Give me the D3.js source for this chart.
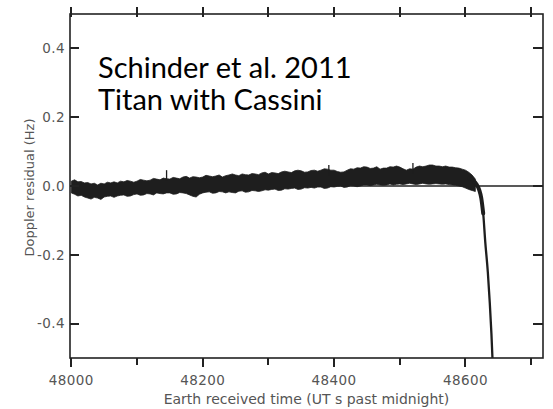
<!DOCTYPE html>
<html><head><meta charset="utf-8">
<script src="https://cdn.jsdelivr.net/npm/d3@7"></script>
<style>body{margin:0;background:#fff}svg{display:block}</style>
</head><body><svg id="c" width="553" height="409"></svg>
<script>
// ---- data ----
const bandTime = [48000,48005,48010,48015,48020,48025,48030,48035,48040,48045,48050,48055,48060,48065,48070,48075,48080,48085,48090,48095,48100,48105,48110,48115,48120,48125,48130,48135,48140,48145,48150,48155,48160,48165,48170,48175,48180,48185,48190,48195,48200,48205,48210,48215,48220,48225,48230,48235,48240,48245,48250,48255,48260,48265,48270,48275,48280,48285,48290,48295,48300,48305,48310,48315,48320,48325,48330,48335,48340,48345,48350,48355,48360,48365,48370,48375,48380,48385,48390,48395,48400,48405,48410,48415,48420,48425,48430,48435,48440,48445,48450,48455,48460,48465,48470,48475,48480,48485,48490,48495,48500,48505,48510,48515,48520,48525,48530,48535,48540,48545,48550,48555,48560,48565,48570,48575,48580,48585,48590,48595,48600,48605,48610,48615];
const bandUpper = [0.014,0.018,0.012,0.013,0.009,0.010,0.006,0.008,0.003,0.008,0.006,0.011,0.009,0.012,0.009,0.014,0.012,0.016,0.014,0.011,0.014,0.019,0.017,0.015,0.017,0.022,0.020,0.018,0.023,0.021,0.020,0.025,0.023,0.021,0.026,0.028,0.023,0.027,0.026,0.024,0.026,0.031,0.029,0.027,0.029,0.032,0.026,0.030,0.032,0.035,0.032,0.030,0.035,0.033,0.032,0.036,0.035,0.033,0.038,0.040,0.035,0.039,0.038,0.036,0.041,0.043,0.041,0.039,0.044,0.046,0.044,0.040,0.041,0.045,0.046,0.043,0.046,0.050,0.049,0.046,0.046,0.042,0.040,0.041,0.046,0.050,0.049,0.053,0.052,0.056,0.055,0.051,0.052,0.056,0.049,0.052,0.052,0.056,0.055,0.058,0.055,0.050,0.046,0.050,0.049,0.055,0.058,0.056,0.058,0.061,0.061,0.058,0.058,0.056,0.058,0.055,0.055,0.053,0.052,0.049,0.046,0.040,0.032,0.020];
const bandLower = [-0.020,-0.024,-0.029,-0.027,-0.032,-0.035,-0.038,-0.033,-0.035,-0.039,-0.032,-0.030,-0.029,-0.033,-0.029,-0.027,-0.026,-0.030,-0.029,-0.025,-0.023,-0.027,-0.026,-0.022,-0.023,-0.026,-0.020,-0.022,-0.023,-0.020,-0.020,-0.024,-0.023,-0.019,-0.020,-0.022,-0.026,-0.030,-0.032,-0.024,-0.020,-0.018,-0.017,-0.021,-0.020,-0.016,-0.017,-0.020,-0.017,-0.019,-0.020,-0.015,-0.014,-0.018,-0.017,-0.013,-0.014,-0.016,-0.014,-0.011,-0.012,-0.010,-0.009,-0.013,-0.012,-0.008,-0.009,-0.007,-0.006,-0.010,-0.009,-0.005,-0.006,-0.004,-0.006,-0.003,-0.003,-0.007,-0.006,-0.002,-0.003,-0.001,0.000,-0.004,-0.003,0.001,0.000,-0.002,0.000,0.003,0.003,0.001,0.003,0.005,0.003,0.002,0.003,0.006,0.003,0.005,0.006,0.004,0.006,0.008,0.006,0.004,0.006,0.008,0.006,0.005,0.006,0.007,0.006,0.005,0.006,0.004,0.003,0.002,0.000,-0.002,-0.006,-0.010,-0.013,-0.016];
const spikeTime = [48145, 48392, 48520];
const spikeTop = [0.046, 0.061, 0.067];
const descentTime = [48606,48612,48617,48621,48624,48627,48630,48634,48637,48639.5,48641.5];
const descentValue = [0.022,0.016,0.004,-0.012,-0.035,-0.080,-0.160,-0.250,-0.340,-0.430,-0.520];
const xTicksMajor = [48000,48200,48400,48600];
const xTicksAll = [48000,48100,48200,48300,48400,48500,48600,48700];
const yTicks = [0.4,0.2,0.0,-0.2,-0.4];
const yTickLabels = ["0.4","0.2","0.0","-0.2","-0.4"];
const xTitle = "Earth received time (UT s past midnight)";
const yTitle = "Doppler residual (Hz)";
const noteLines = ["Schinder et al. 2011","Titan with Cassini"];

// ---- layout ----
const L=70, R=543, T=14, B=358;
const svg = d3.select("#c");
const x = d3.scaleLinear().domain([47998,48718]).range([L,R]);
const y = d3.scaleLinear().domain([-0.5,0.5]).range([B,T]);
const ink = "#1e1e1e", axisCol = "#222", labelCol = "#555";

svg.append("defs").append("clipPath").attr("id","clip")
  .append("rect").attr("x",L).attr("y",T).attr("width",R-L).attr("height",B-T);

const g = svg.append("g").attr("clip-path","url(#clip)");
g.append("line").attr("x1",L).attr("x2",R).attr("y1",y(0)).attr("y2",y(0))
  .attr("stroke","#222").attr("stroke-width",1.3);

const band = bandTime.map((t,i)=>({t,u:bandUpper[i],l:bandLower[i]}));
g.append("path").datum(band)
  .attr("d", d3.area().x(d=>x(d.t)).y0(d=>y(d.l)).y1(d=>y(d.u)))
  .attr("fill",ink).attr("stroke",ink).attr("stroke-width",0.8).attr("stroke-linejoin","round");

g.selectAll("line.spike").data(spikeTime.map((t,i)=>({t,v:spikeTop[i]}))).enter().append("line")
  .attr("class","spike")
  .attr("x1",d=>x(d.t)).attr("x2",d=>x(d.t)).attr("y1",d=>y(d.v)).attr("y2",d=>y(d.v-0.03))
  .attr("stroke",ink).attr("stroke-width",1.3);

const desc = descentTime.map((t,i)=>({t,v:descentValue[i]}));
g.append("path").datum(desc.slice(0,6))
  .attr("d", d3.line().x(d=>x(d.t)).y(d=>y(d.v)).curve(d3.curveMonotoneX))
  .attr("fill","none").attr("stroke",ink).attr("stroke-width",4).attr("stroke-linecap","round");
g.append("path").datum(desc)
  .attr("d", d3.line().x(d=>x(d.t)).y(d=>y(d.v)).curve(d3.curveMonotoneX))
  .attr("fill","none").attr("stroke",ink).attr("stroke-width",2.3);

// ---- frame ----
svg.append("rect").attr("x",L).attr("y",T).attr("width",R-L).attr("height",B-T)
  .attr("fill","none").attr("stroke",axisCol).attr("stroke-width",1.6);

// ---- ticks as filled rects (positions from scales) ----
const tickRects = [];
xTicksAll.forEach(d=>{
  const px = Math.round(x(d));
  tickRects.push({x:px-1, y:B, w:2, h:(xTicksMajor.includes(d)?9:7)});
  tickRects.push({x:px-1, y:T-7, w:2, h:10});
});
yTicks.forEach(d=>{
  const py = Math.round(y(d));
  tickRects.push({x:L, y:py-1, w:9, h:2});
  tickRects.push({x:R-10, y:py-1, w:10, h:2});
});
svg.append("g").selectAll("rect").data(tickRects).enter().append("rect")
  .attr("x",d=>d.x).attr("y",d=>d.y).attr("width",d=>d.w).attr("height",d=>d.h)
  .attr("fill",axisCol);

svg.append("g").selectAll("text").data(xTicksMajor).enter().append("text")
  .attr("x",d=>x(d)).attr("y",B+27).attr("text-anchor","middle")
  .attr("font-family","DejaVu Sans").attr("font-size",13.5).attr("fill",labelCol).attr("letter-spacing",0.4)
  .text(d3.format("d"));
svg.append("g").selectAll("text").data(yTicks).enter().append("text")
  .attr("x",L-5).attr("y",d=>y(d)).attr("dy","0.35em").attr("text-anchor","end")
  .attr("font-family","DejaVu Sans").attr("font-size",13.5).attr("fill",labelCol).attr("letter-spacing",0.4)
  .text((d,i)=>yTickLabels[i]);

svg.append("text").attr("x",(160+453)/2).attr("y",404).attr("text-anchor","middle")
  .attr("font-family","DejaVu Sans").attr("font-size",14).attr("fill",labelCol).text(xTitle);
svg.append("text").attr("transform",`translate(34,${(113+262)/2}) rotate(-90)`).attr("text-anchor","middle")
  .attr("font-family","DejaVu Sans").attr("font-size",13).attr("fill",labelCol).text(yTitle);

const note = svg.append("g");
noteLines.forEach((s,i)=>{
  note.append("text").attr("x",98).attr("y",78+i*32)
    .attr("font-family","Lato, 'Open Sans', sans-serif").attr("font-size",29).attr("fill","#000").text(s);
});
</script></body></html>
